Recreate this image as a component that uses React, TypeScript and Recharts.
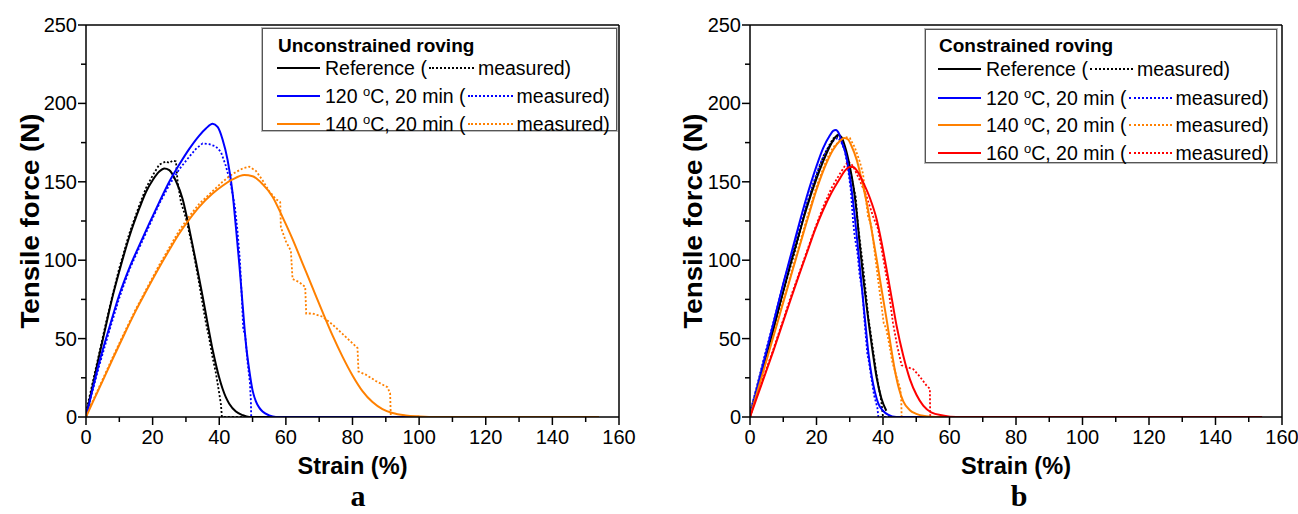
import React from 'react';
import { LineChart, Line, XAxis, YAxis, ReferenceLine } from 'recharts';

type P = { x: number; y: number };
const pts = (arr: number[][]): P[] => arr.map(([x, y]) => ({ x, y }));

// ---------- axis ticks ----------
const xTicks = [0, 10, 20, 30, 40, 50, 60, 70, 80, 90, 100, 110, 120, 130, 140, 150, 160];
const yTicks = [0, 25, 50, 75, 100, 125, 150, 175, 200, 225, 250];

// ---------- panel a : unconstrained roving ----------
const aRefFit = pts([[0,0],[2,20],[4,39.5],[6,58.5],[8,77],[10,93],[13,115],[16,133],[18,143.5],[20,151],[22,156.5],[23.5,158.5],[25,157.5],[27,150.5],[29,139],[31,120],[33,99],[35,77],[36,65.5],[37,54],[38,43],[39,33.5],[40,25],[41,18],[42,12.5],[43,8.5],[45,3.5],[47,1.2],[49,0],[154,0]]);
const aRefMeas = pts([[0,3],[2,22],[4,41],[6,60],[8,78],[10,95],[13,117],[16,135],[18,146],[20,154],[22,161],[24,163],[25,162],[26,163.5],[27,163],[27.5,150],[28.5,137],[30,127],[32,108],[34,85],[35,72],[36,60],[37,50],[38,38],[39,28],[40,15],[40.5,8],[40.8,0],[150,0]]);
const a120Fit = pts([[0,0],[2,18],[4,35],[7,57],[10,78],[13,95],[16,109.5],[19,123.5],[22,137],[25,150],[28,161],[31,171],[34,179.5],[36,184],[38,187],[39.5,185],[41,177],[42.5,164],[44,143],[45,121],[46,98],[47,72],[48,47],[49,30],[50,17],[51,10],[52,6],[53,3.5],[55,1],[57,0],[154,0]]);
const a120Meas = pts([[0,2],[2,17],[4,33],[7,55],[10,76],[13,94],[16,108],[19,122],[22,136],[25,148],[28,158],[31,166],[33,171],[35,174.5],[37,174],[39,172.5],[40.5,169],[42,160],[43.5,148],[44.7,134],[45.5,118],[46.2,100],[46.8,75],[47.2,56],[47.8,52],[48.5,35],[49.2,22],[49.5,10],[49.6,0],[150,0]]);
const a140Fit = pts([[0,0],[2,9.3],[5,23],[8,37],[12,55],[15,68],[18,80],[22,95.5],[25,106.5],[28,117],[31,126],[34,134],[38,142.5],[41,147.5],[44,151.5],[47.5,154.3],[50,153.5],[53,148.5],[56,140.5],[59,127.5],[62,113.5],[65,98],[68,82.5],[71,67],[74,52],[77,38.5],[80,26.5],[83,16.5],[86,9.5],[89,5],[92,2.5],[96,1],[100,0.4],[105,0],[154,0]]);
const a140Meas = pts([[0,3],[2,10],[5,24],[8,38],[12,56],[15,69],[18,81],[22,97],[25,108],[28,119],[31,128],[34,136],[38,144],[41,150],[44,155],[47,158.5],[49,159.6],[51,157],[53,151],[55,144],[57,139],[58.3,137],[58.5,121],[60,112],[61.5,106],[62,88],[64,86],[65.8,83],[66.1,66],[68,66],[71,64],[74,59],[77,53],[80,47],[81.5,44],[81.8,29],[84,27],[87,23],[90.5,19],[91.3,15],[91.5,0],[150,0]]);

// ---------- panel b : constrained roving ----------
const bRefFit = pts([[0,0],[2,16],[4,32],[7,56],[10,80],[12,96],[14,111],[17,133],[20,152],[22,163],[24,172.5],[25.5,178],[26.5,180],[27.5,178.5],[28.5,173],[30,160],[31.1,147],[32,132],[33.1,108],[34,90],[35.6,62],[37,40],[38.1,25],[39.5,12],[41,4]]);
const bRefMeas = pts([[0,2],[2,18],[4,34],[7,56],[10,80],[13,102],[17,134],[20,154],[22,166],[24,174],[25,177.5],[26,179],[27,178],[28,174],[29,167],[30,158],[31,148],[31.8,140],[32.5,122],[33.3,108],[34,96],[34.8,80],[35.6,63],[36.4,52],[37.2,40],[38,28],[38.8,18],[39.5,10],[40,0],[150,0]]);
const b120Fit = pts([[0,0],[2,17],[4,34],[7,59.5],[10,85],[12,101],[14,117],[17,140],[20,160],[22,171.5],[24,179.5],[25,182.5],[25.8,183],[26.8,180.5],[27.5,176],[29,166],[30.5,146],[31.6,126],[32.6,105],[33.6,83.5],[34.6,62],[35.6,41],[36.6,26],[37.6,15.7],[38.6,8.5],[40,4],[41.5,1.5],[44,0],[154,0]]);
const b120Meas = pts([[0,3],[2,19],[4,36],[7,60],[10,85],[13,107],[16,129],[19,149],[21,161],[23,170],[24.5,175],[25.5,177],[26.5,178],[27.5,175],[28.5,170],[29.5,158],[30.3,145],[31,125],[31.5,115],[32.3,105],[33,90],[33.8,80],[34.3,65],[34.8,52],[35.3,40],[35.8,35],[36.5,25],[37.3,14],[38.3,6],[38.6,0],[150,0]]);
const b140Fit = pts([[0,0],[2,14.5],[4,29],[7,51],[10,73],[13,95],[17,124],[20,145],[23,162],[25,170.5],[27,176],[28.3,178],[29.5,177],[30.5,173],[32.1,164],[33.5,152],[35.1,136.6],[36.6,119],[38.1,100.5],[39.6,81],[41.1,62],[42.4,44.5],[43.6,29.5],[44.8,18],[46.1,10],[48,4.5],[50,2],[53,0.5],[56,0],[154,0]]);
const b140Meas = pts([[0,2],[2,16],[4,31],[7,52],[10,74],[13,96],[17,126],[20,147],[23,164],[25,172],[27,176],[28.5,178.5],[30,178],[31.5,172],[33,163],[34,155],[34.8,140],[35.5,128],[36.5,122],[37.5,105],[38.5,88],[39.5,72],[40.2,60],[41,56],[42,45],[42.8,35],[43.5,30],[44.3,24],[45.2,18],[45.5,10],[45.6,0],[150,0]]);
const b160Fit = pts([[0,0],[2,12],[4,24],[7,42],[10,61],[12,73.5],[14.5,89],[17,104],[19.5,119],[22,132],[24.5,143],[27,152],[28.5,157],[30,159.5],[31,159.5],[32.5,156],[34.1,149.3],[36,140],[38.1,126],[39.6,111],[41.1,94],[42.6,76],[44.1,58],[46.1,39],[48.1,24],[50.1,14],[52.1,7.2],[54.5,3],[58,1],[62,0],[154,0]]);
const b160Meas = pts([[0,2],[2,13],[4,25],[7,43],[10,62],[12,75],[14.5,90],[17,105],[19.5,120],[22,134],[24.5,146],[27,155],[28.5,160],[29.6,163],[31,160],[33,151],[35,141],[37,128],[38.5,120],[40,102],[41.5,84],[43,60],[44.3,45],[45.6,33],[47,32],[49.1,30.5],[51,26],[53.1,20],[54.1,18],[54.2,0],[150,0]]);

const BLACK = '#000000';
const BLUE = '#0000ff';
const ORANGE = '#ff8000';
const RED = '#ff0000';
const FONT = '"Liberation Sans", Arial, Helvetica, sans-serif';

type Series = { fit: P[]; meas: P[]; color: string; label: string; deg: boolean };

const seriesA: Series[] = [
  { fit: aRefFit, meas: aRefMeas, color: BLACK, label: 'Reference', deg: false },
  { fit: a120Fit, meas: a120Meas, color: BLUE, label: '120', deg: true },
  { fit: a140Fit, meas: a140Meas, color: ORANGE, label: '140', deg: true },
];
const seriesB: Series[] = [
  { fit: bRefFit, meas: bRefMeas, color: BLACK, label: 'Reference', deg: false },
  { fit: b120Fit, meas: b120Meas, color: BLUE, label: '120', deg: true },
  { fit: b140Fit, meas: b140Meas, color: ORANGE, label: '140', deg: true },
  { fit: b160Fit, meas: b160Meas, color: RED, label: '160', deg: true },
];

const XTick = (props: any) => {
  const { x, y, payload } = props;
  const v = payload.value;
  const major = v % 20 === 0;
  return (
    <g>
      <line x1={x} x2={x} y1={y} y2={y + (major ? 8 : 5)} stroke="#000" strokeWidth={1.5} />
      {major && (
        <text x={x} y={y + 27} textAnchor="middle" fontSize={20} fontFamily={FONT} fill="#000">
          {v}
        </text>
      )}
    </g>
  );
};

const YTick = (props: any) => {
  const { x, y, payload } = props;
  const v = payload.value;
  const major = v % 50 === 0;
  return (
    <g>
      <line x1={x} x2={x - (major ? 8 : 5)} y1={y} y2={y} stroke="#000" strokeWidth={1.5} />
      {major && (
        <text x={x - 9} y={y + 7} textAnchor="end" fontSize={20} fontFamily={FONT} fill="#000">
          {v}
        </text>
      )}
    </g>
  );
};

const Panel = ({ series, width, yAxisWidth, right }: { series: Series[]; width: number; yAxisWidth: number; right: number }) => (
  <LineChart width={width} height={514} margin={{ top: 25, right, bottom: 0, left: 0 }}>
    <XAxis
      type="number"
      dataKey="x"
      domain={[0, 160]}
      ticks={xTicks}
      interval={0}
      height={97}
      tickSize={0}
      tickMargin={0}
      tick={<XTick />}
      axisLine={{ stroke: '#000', strokeWidth: 1.5 }}
      allowDataOverflow
    />
    <YAxis
      type="number"
      dataKey="y"
      domain={[0, 250]}
      ticks={yTicks}
      interval={0}
      width={yAxisWidth}
      tickSize={0}
      tickMargin={0}
      tick={<YTick />}
      axisLine={{ stroke: '#000', strokeWidth: 1.5 }}
      allowDataOverflow
    />
    <ReferenceLine y={250} stroke="#000" strokeWidth={1.5} />
    <ReferenceLine x={160} stroke="#000" strokeWidth={1.5} />
    {series.map((s, i) => (
      <Line
        key={'m' + i}
        data={s.meas}
        dataKey="y"
        type="linear"
        stroke={s.color}
        strokeWidth={1.8}
        strokeDasharray="2 2"
        dot={false}
        isAnimationActive={false}
      />
    ))}
    {series.map((s, i) => (
      <Line
        key={'f' + i}
        data={s.fit}
        dataKey="y"
        type="monotone"
        stroke={s.color}
        strokeWidth={2}
        dot={false}
        isAnimationActive={false}
      />
    ))}
  </LineChart>
);

const LegendBox = ({ title, series, left, top, width, height, rowTops, sampleLeft, dotW }: any) => (
  <div
    style={{
      position: 'absolute',
      left,
      top,
      width,
      height,
      border: '1px solid #555',
      boxShadow: '0 0 0 1px #bbb',
      background: '#fff',
      fontFamily: FONT,
      color: '#000',
      boxSizing: 'border-box',
    }}
  >
    <div style={{ position: 'absolute', left: sampleLeft + 1, top: rowTops[0], fontSize: 19, fontWeight: 'bold', lineHeight: '22px', whiteSpace: 'nowrap' }}>
      {title}
    </div>
    {series.map((s: Series, i: number) => (
      <div
        key={i}
        style={{ position: 'absolute', left: sampleLeft, top: rowTops[i + 1], fontSize: 19.5, lineHeight: '22px', whiteSpace: 'nowrap', display: 'flex', alignItems: 'center' }}
      >
        <span style={{ display: 'inline-block', width: 43, borderTop: `2px solid ${s.color}`, marginRight: 5 }} />
        <span>
          {s.deg ? (
            <>
              {s.label} <sup style={{ fontSize: 13, verticalAlign: 'top', position: 'relative', top: -4 }}>o</sup>C, 20 min (
            </>
          ) : (
            <>{s.label} (</>
          )}
        </span>
        <span style={{ display: 'inline-block', width: dotW, borderTop: `2px dotted ${s.color}`, margin: '0 4px 0 2px' }} />
        <span>measured)</span>
      </div>
    ))}
  </div>
);

const SERIF = '"Liberation Serif", "Times New Roman", serif';

export default function App() {
  return (
    <div style={{ position: 'absolute', left: 0, top: 0, width: 1298, height: 514, background: '#fff', overflow: 'hidden' }}>
      <div style={{ position: 'absolute', left: 0, top: 0 }}>
        <Panel series={seriesA} width={650} yAxisWidth={86} right={31} />
      </div>
      <div style={{ position: 'absolute', left: 650, top: 0 }}>
        <Panel series={seriesB} width={648} yAxisWidth={100} right={16} />
      </div>
      <svg width={1298} height={514} style={{ position: 'absolute', left: 0, top: 0, pointerEvents: 'none' }}>
        <text x={352.5} y={474} textAnchor="middle" fontSize={23} fontWeight="bold" fontFamily={FONT} textLength={110} lengthAdjust="spacingAndGlyphs">Strain (%)</text>
        <text x={1016} y={474} textAnchor="middle" fontSize={23} fontWeight="bold" fontFamily={FONT} textLength={110} lengthAdjust="spacingAndGlyphs">Strain (%)</text>
        <text transform="translate(39,221) rotate(-90)" textAnchor="middle" fontSize={25} fontWeight="bold" fontFamily={FONT} textLength={215} lengthAdjust="spacingAndGlyphs">Tensile force (N)</text>
        <text transform="translate(702,221) rotate(-90)" textAnchor="middle" fontSize={25} fontWeight="bold" fontFamily={FONT} textLength={215} lengthAdjust="spacingAndGlyphs">Tensile force (N)</text>
        <text x={358} y={506} textAnchor="middle" fontSize={30} fontWeight="bold" fontFamily={SERIF}>a</text>
        <text x={1019} y={506} textAnchor="middle" fontSize={30} fontWeight="bold" fontFamily={SERIF}>b</text>
      </svg>
      <LegendBox
        title="Unconstrained roving"
        series={seriesA}
        left={262}
        top={28}
        width={355}
        height={103}
        rowTops={[6, 28, 56, 84]}
        sampleLeft={14}
        dotW={45}
      />
      <LegendBox
        title="Constrained roving"
        series={seriesB}
        left={925}
        top={29}
        width={352}
        height={134}
        rowTops={[5, 28, 57, 84, 112]}
        sampleLeft={12}
        dotW={43}
      />
    </div>
  );
}
